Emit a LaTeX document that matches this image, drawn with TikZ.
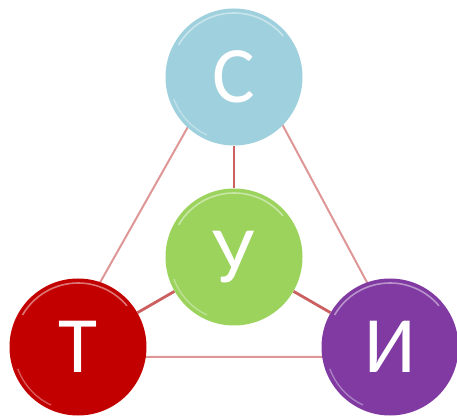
\documentclass[tikz,border=0pt]{standalone}
\usepackage{fontspec}
\setmainfont{Carlito}
\usetikzlibrary{positioning,calc}
\pgfdeclarelayer{bg}
\pgfsetlayers{bg,main}
\usepackage{xcolor}
\definecolor{ballblue}{RGB}{158,208,222}
\definecolor{ballgreen}{RGB}{155,211,92}
\definecolor{ballred}{RGB}{194,0,0}
\definecolor{ballpurple}{RGB}{128,58,162}
\definecolor{edgepink}{RGB}{222,150,150}
\definecolor{spokered}{RGB}{204,96,96}

\begin{document}
\begin{tikzpicture}[x=1pt, y=1pt,
  ball/.style={circle, minimum size=137pt, inner sep=0pt, text=white,
    font=\fontsize{80}{80}\selectfont},
  edge/.style={draw=edgepink, line width=2pt},
  spoke/.style={draw=spokered, line width=2.8pt}
]
\useasboundingbox (0,0) rectangle (457,417);

% the four balls
\node[ball, fill=ballblue] (S) at (234,340) {С};
\node[ball, fill=ballgreen] (U) at (234,160) {У};
\node[ball, fill=ballred] (T) at (78,70) {Т};
\node[ball, fill=ballpurple] (I) at (390,70) {И};

% rim highlights
\foreach \n in {S,U,T,I} {
  \draw[white, opacity=0.45, line width=1.6pt] ($(\n)+(150:64)$) arc (150:40:64);
  \draw[white, opacity=0.35, line width=1.4pt] ($(\n)+(200:64)$) arc (200:245:64);
}

% outer triangle and spokes
\coordinate (apex) at ($(S)+(3,37)$);
\coordinate (left) at ($(T)+(-20,-10)$);
\coordinate (right) at ($(I)+(17,-10)$);
\begin{pgfonlayer}{bg}
  \draw[edge] (apex) -- (left) -- (right) -- cycle;
  \draw[spoke] (S) -- (U);
  \draw[spoke] (U) -- (T);
  \draw[spoke] (U) -- (I);
\end{pgfonlayer}

\end{tikzpicture}
\end{document}
